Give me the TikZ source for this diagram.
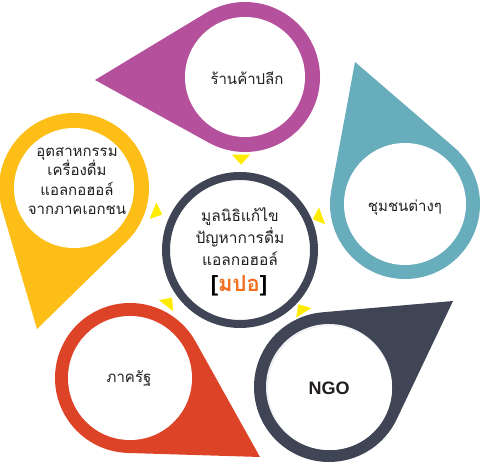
\documentclass[tikz,border=0pt]{standalone}
\usepackage{fontspec}
\usetikzlibrary{calc}
\newfontfamily\thai[Script=Thai]{Loma}
\newfontfamily\lsans{Liberation Sans}
\definecolor{cpurple}{HTML}{B5519C}
\definecolor{cteal}{HTML}{67ADBC}
\definecolor{cslate}{HTML}{3F4554}
\definecolor{cred}{HTML}{DD4427}
\definecolor{cyellow}{HTML}{FDBE18}
\definecolor{carrow}{HTML}{FFEC00}
\definecolor{corange}{HTML}{F27022}
\definecolor{ctxt}{HTML}{231F20}
\definecolor{cshadow}{HTML}{EEF0F3}
% pin: center, tip, colour, radius
\newcommand{\pinshape}[4]{%
  \fill[#3] let \p1=(#2), \p2=(#1),
    \n1={veclen(\x1-\x2,\y1-\y2)},
    \n2={atan2(\y1-\y2,\x1-\x2)},
    \n3={acos(#4/\n1)} in
    (#2) -- ($(#1)+(\n2+\n3:#4)$)
    arc[start angle=\n2+\n3, end angle=\n2-\n3+360, radius=#4] -- cycle;}
% small yellow pointer: position, direction
\newcommand{\pointer}[2]{%
  \fill[carrow, shift={#1}, rotate=#2] (6.7,0) -- (-3.3,9) -- (-3.3,-9) -- cycle;}
\begin{document}
\begin{tikzpicture}[x=1pt,y=1pt,
  thaitext/.style={font=\thai\fontsize{15}{21}\selectfont, text=ctxt, align=center, inner sep=0pt},
  hole/.style={fill=white}]
\useasboundingbox (0,0) rectangle (481,465);
\coordinate (oC) at (240,215);
\coordinate (pC) at (245,388); \coordinate (pT) at (95,385);
\coordinate (tC) at (405,261); \coordinate (tT) at (355,403);
\coordinate (nC) at (329,78);  \coordinate (nT) at (453,164);
\coordinate (rC) at (130,87);  \coordinate (rT) at (260,8);
\coordinate (yC) at (74,277);  \coordinate (yT) at (37,136);

\pinshape{pC}{pT}{cpurple}{75pt}
\pinshape{tC}{tT}{cteal}{75pt}
\pinshape{nC}{nT}{cslate}{75pt}
\pinshape{rC}{rT}{cred}{75pt}
\pinshape{yC}{yT}{cyellow}{75pt}

\fill[hole] (pC) circle (60);
\fill[hole] (tC) circle (61);
\fill[cshadow] (nC) circle (63);
\fill[hole] ($(nC)+(1,-1)$) circle (62);
\fill[hole] (rC) circle (62);
\fill[hole] (yC) circle (60);

\draw[cslate, line width=8pt, fill=white] (oC) circle (74);

\pointer{(241,307)}{-90}
\pointer{(156,253)}{-22}
\pointer{(319,248)}{200}
\pointer{(302,155)}{122}
\pointer{(168,162)}{52}

\node[thaitext] (ptext) at (247,387) {ร้านค้าปลีก};
\node[thaitext] (ttext) at (405,257) {ชุมชนต่างๆ};
\node[font=\lsans\bfseries\fontsize{18}{20}\selectfont, text=ctxt, inner sep=0pt] (ntext) at (329,77) {NGO};
\node[thaitext] (rtext) at (129,87) {ภาครัฐ};
\node[thaitext, font=\thai\fontsize{15}{19.5}\selectfont] (ytext) at (77,284) {อุตสาหกรรม\\เครื่องดื่ม\\แอลกอฮอล์\\จากภาคเอกชน};
\node[thaitext, font=\thai\fontsize{15.5}{22}\selectfont] (ctext) at (240,228) {มูลนิธิแก้ไข\\ปัญหาการดื่ม\\แอลกอฮอล์};
\node[inner sep=0pt] (mpo) at (239,179) {\lsans\bfseries\fontsize{22}{24}\selectfont[\textcolor{corange}{\thai\bfseries มปอ}]};
\end{tikzpicture}
\end{document}
